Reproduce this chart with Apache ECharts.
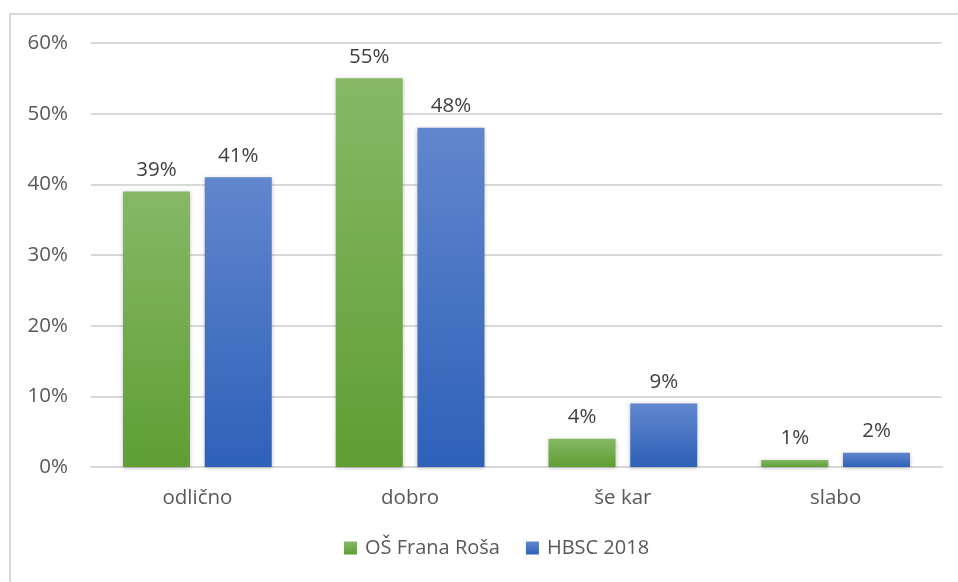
<!DOCTYPE html>
<html>
<head>
<meta charset="utf-8">
<script src="https://cdn.jsdelivr.net/npm/echarts@6/dist/echarts.min.js"></script>
<style>
  html, body { margin: 0; padding: 0; background: #fff; }
  #chart { width: 958px; height: 582px; }
</style>
</head>
<body>
<div id="chart"></div>
<script>
// Ocena zdravja: OŠ Frana Roša v primerjavi s HBSC 2018
const categories = ['odlično', 'dobro', 'še kar', 'slabo'];
const seriesNames = ['OŠ Frana Roša', 'HBSC 2018'];
const osFranaRosa = [39, 55, 4, 1];
const hbsc2018 = [41, 48, 9, 2];
const yTicks = [0, 10, 20, 30, 40, 50, 60];

const font = '"Open Sans", "Noto Sans", sans-serif';

function grad(top, bottom) {
  return new echarts.graphic.LinearGradient(0, 0, 0, 1, [
    { offset: 0, color: top },
    { offset: 1, color: bottom }
  ]);
}

const chart = echarts.init(document.getElementById('chart'), null, { renderer: 'canvas' });

const labelStyle = {
  show: true,
  position: 'top',
  distance: 11,
  formatter: '{c}%',
  color: '#404040',
  fontSize: 20.5,
  fontFamily: font
};

chart.setOption({
  animation: false,
  graphic: [{
    type: 'rect',
    shape: { x: 10, y: 14, width: 980, height: 600 },
    style: { fill: 'none', stroke: '#d9d9d9', lineWidth: 2 },
    silent: true
  }],
  grid: { left: 91, right: 16, top: 43, bottom: 115, containLabel: false },
  legend: {
    bottom: 19,
    left: 339,
    itemWidth: 13,
    itemHeight: 13,
    itemGap: 26,
    icon: 'rect',
    textStyle: { color: '#595959', fontSize: 20, fontFamily: font, padding: [0, 0, 0, 3] },
    data: seriesNames
  },
  xAxis: {
    type: 'category',
    data: categories,
    axisLine: { lineStyle: { color: '#d9d9d9', width: 2 } },
    axisTick: { show: false },
    axisLabel: { color: '#595959', fontSize: 20.5, fontFamily: font, margin: 21 }
  },
  yAxis: {
    type: 'value',
    min: yTicks[0],
    max: yTicks[yTicks.length - 1],
    interval: 10,
    axisLine: { show: false },
    axisTick: { show: false },
    axisLabel: { color: '#595959', fontSize: 20.5, fontFamily: font, margin: 23, formatter: '{value}%' },
    splitLine: { lineStyle: { color: '#d9d9d9', width: 2 } }
  },
  series: [
    {
      name: seriesNames[0],
      type: 'bar',
      data: osFranaRosa,
      barWidth: 67,
      barGap: '22%',
      itemStyle: {
        color: grad('#86b866', '#5f9e33'),
        shadowColor: 'rgba(0,0,0,0.25)',
        shadowBlur: 4,
        shadowOffsetY: 1
      },
      label: labelStyle
    },
    {
      name: seriesNames[1],
      type: 'bar',
      data: hbsc2018,
      barWidth: 67,
      itemStyle: {
        color: grad('#6186cd', '#2e61b9'),
        shadowColor: 'rgba(0,0,0,0.25)',
        shadowBlur: 4,
        shadowOffsetY: 1
      },
      label: labelStyle
    }
  ]
});
</script>
</body>
</html>
